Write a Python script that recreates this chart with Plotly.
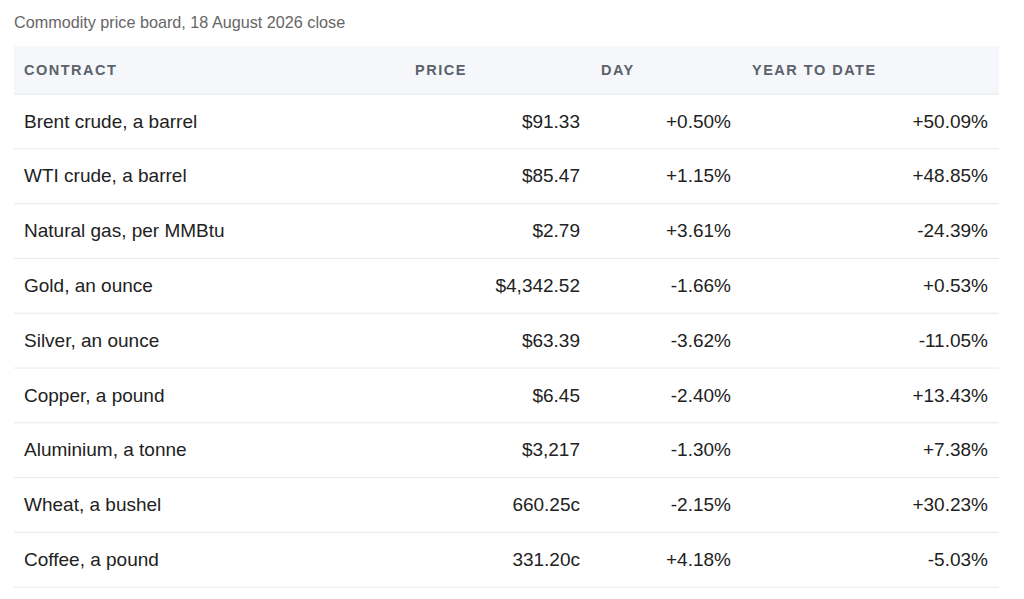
import plotly.graph_objects as go

# ---- data ----
title_text = "Commodity price board, 18 August 2026 close"
headers = ["CONTRACT", "PRICE", "DAY", "YEAR TO DATE"]
contracts = ["Brent crude, a barrel", "WTI crude, a barrel", "Natural gas, per MMBtu",
             "Gold, an ounce", "Silver, an ounce", "Copper, a pound",
             "Aluminium, a tonne", "Wheat, a bushel", "Coffee, a pound"]
prices = ["$91.33", "$85.47", "$2.79", "$4,342.52", "$63.39", "$6.45",
          "$3,217", "660.25c", "331.20c"]
day_changes = ["+0.50%", "+1.15%", "+3.61%", "-1.66%", "-3.62%", "-2.40%",
               "-1.30%", "-2.15%", "+4.18%"]
ytd_changes = ["+50.09%", "+48.85%", "-24.39%", "+0.53%", "-11.05%", "+13.43%",
               "+7.38%", "+30.23%", "-5.03%"]

# ---- layout constants (screen pixels) ----
W, H = 1024, 599
OFF = 8  # page body margin
LEFT, RIGHT = 14, 999
HEAD_TOP, HEAD_H, ROW_H = 46, 48, 54.8
TEXT_NUDGE = 1.5
head_x = [24, 415, 601, 752]
val_x = [24, 580, 731, 988]
val_pos = ["middle right", "middle left", "middle left", "middle left"]
FONT = "Liberation Sans, Arial, Helvetica, sans-serif"

columns = [contracts, prices, day_changes, ytd_changes]
n = len(contracts)
row_y = [HEAD_TOP + HEAD_H + ROW_H * (i + 0.5) + TEXT_NUDGE for i in range(n)]
head_y = HEAD_TOP + HEAD_H / 2 + 1

fig = go.Figure()

# header texts
fig.add_trace(go.Scatter(
    x=head_x, y=[head_y] * len(headers), mode="text",
    text=['<span style="letter-spacing:1.5px">%s</span>' % h for h in headers],
    textposition="middle right",
    textfont=dict(family=FONT, size=14.5, color="#5b626b", weight=700),
    hoverinfo="skip", showlegend=False,
))

# body cells
for col, xv, pos in zip(columns, val_x, val_pos):
    fig.add_trace(go.Scatter(
        x=[xv] * n, y=row_y, mode="text", text=col, textposition=pos,
        textfont=dict(family=FONT, size=19, color="#222222"),
        hoverinfo="skip", showlegend=False,
    ))

shapes = [dict(type="rect", xref="x", yref="y", x0=LEFT, x1=RIGHT,
               y0=HEAD_TOP, y1=HEAD_TOP + HEAD_H, fillcolor="#f5f7fa",
               line=dict(width=0), layer="below")]
for i in range(n + 1):
    yy = HEAD_TOP + HEAD_H + ROW_H * i
    shapes.append(dict(type="line", xref="x", yref="y", x0=LEFT, x1=RIGHT,
                       y0=yy, y1=yy,
                       line=dict(color="#e6e8eb" if i else "#e3e6ea", width=1),
                       layer="below"))

fig.update_layout(
    width=W, height=H, margin=dict(l=0, r=0, t=0, b=0),
    paper_bgcolor="white", plot_bgcolor="white",
    xaxis=dict(range=[OFF, W + OFF], visible=False, fixedrange=True),
    yaxis=dict(range=[H + OFF, OFF], visible=False, fixedrange=True),
    shapes=shapes,
    annotations=[dict(text=title_text, x=LEFT - 2, y=22, xref="x", yref="y",
                      xanchor="left", yanchor="middle", showarrow=False,
                      font=dict(family=FONT, size=16.2, color="#666666"))],
)

fig.write_html("out.html")
